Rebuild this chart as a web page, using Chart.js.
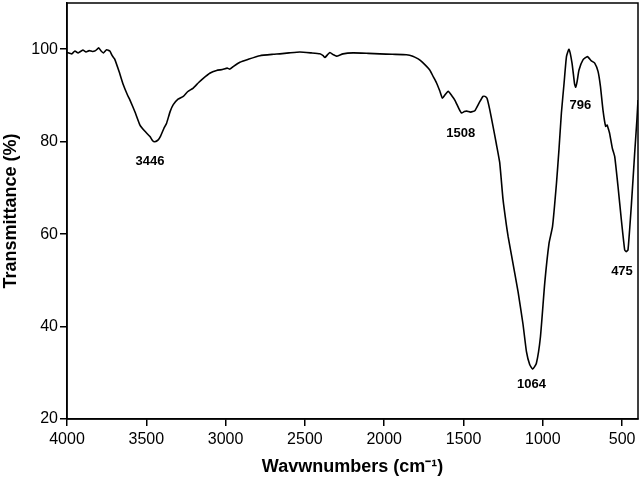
<!DOCTYPE html>
<html>
<head>
<meta charset="utf-8">
<script src="https://cdn.jsdelivr.net/npm/chart.js@4/dist/chart.umd.min.js"></script>
<style>
  html, body { margin: 0; padding: 0; background: #fff; }
  #wrap { width: 642px; height: 483px; }
</style>
</head>
<body>
<div id="wrap"><canvas id="c" width="642" height="483"></canvas></div>
<script>
// Wavenumbers (cm-1) and transmittance (%)
const wavenumbers = [
  4000, 3970, 3950, 3930, 3900, 3880, 3860, 3840, 3820, 3800, 3785, 3770, 3750, 3730, 3715, 3700,
  3670, 3645, 3620, 3603, 3570, 3540, 3510, 3477, 3460, 3446, 3425, 3410, 3390, 3372, 3350, 3330,
  3300, 3267, 3240, 3204, 3170, 3141, 3100, 3057, 3020, 2990, 2973, 2950, 2910, 2860, 2784, 2700,
  2658, 2600, 2532, 2460, 2406, 2385, 2374, 2355, 2343, 2320, 2301, 2260, 2196, 2100, 2028, 1950,
  1860, 1820, 1786, 1760, 1713, 1690, 1670, 1650, 1633, 1615, 1597, 1575, 1555, 1530, 1513, 1495,
  1481, 1455, 1429, 1400, 1377, 1365, 1352, 1335, 1314, 1293, 1272, 1251, 1230, 1219, 1198, 1156,
  1125, 1103, 1083, 1064, 1041, 1015, 988, 961, 939, 914, 898, 883, 866, 851, 835, 816,
  800, 793, 784, 772, 747, 719, 694, 673, 652, 637, 621, 604, 595, 589, 579, 562,
  547, 526, 505, 484, 475, 463, 441, 421, 407, 400
];
const transmittance = [
  99.3, 99.0, 99.6, 99.2, 99.8, 99.4, 99.7, 99.5, 99.7, 100.3, 99.6, 99.2, 99.9, 99.6, 98.6, 97.9,
  95.0, 92.3, 90.2, 89.0, 86.3, 83.6, 82.3, 81.1, 80.2, 80.0, 80.4, 81.2, 82.8, 84.0, 86.5, 88.0,
  89.2, 89.8, 90.8, 91.6, 92.8, 93.7, 94.8, 95.4, 95.6, 95.9, 95.7, 96.3, 97.2, 97.8, 98.6, 98.9,
  99.0, 99.2, 99.4, 99.2, 99.0, 98.6, 98.2, 98.9, 99.3, 98.8, 98.5, 99.0, 99.2, 99.1, 99.0, 98.9,
  98.8, 98.5, 97.9, 97.2, 95.5, 94.0, 92.7, 91.0, 89.4, 90.2, 90.9, 90.0, 89.0, 87.2, 86.2, 86.5,
  86.6, 86.4, 86.7, 88.5, 89.8, 89.8, 89.4, 87.0, 83.3, 79.5, 75.5, 67.5, 62.0, 59.5, 55.5, 47.5,
  40.5, 34.5, 31.8, 30.8, 32.0, 37.8, 49.4, 58.0, 61.6, 71.0, 78.4, 86.2, 92.7, 98.4, 100.0, 97.0,
  92.5, 91.8, 93.0, 95.5, 97.7, 98.4, 97.5, 97.0, 95.2, 92.0, 86.9, 83.3, 83.6, 83.0, 81.8, 78.6,
  76.8, 70.3, 63.1, 56.6, 56.2, 56.6, 66.7, 77.5, 84.7, 89.0
];
const xTickValues = [4000, 3500, 3000, 2500, 2000, 1500, 1000, 500];
const yTickValues = [20, 40, 60, 80, 100];
// Peak annotations: label text, anchor wavenumber, anchor transmittance
const peakLabels = ['3446', '1508', '796', '1064', '475'];
const peakLabelX = [3477, 1517, 763, 1072, 501];
const peakLabelY = [75.8, 81.7, 87.9, 27.5, 51.9];

const FONT = 'Arial, "Liberation Sans", sans-serif';

const framePlugin = {
  id: 'frame',
  afterDatasetsDraw(chart) {
    const {ctx, chartArea: a, scales} = chart;
    ctx.save();
    ctx.strokeStyle = '#000';
    ctx.lineWidth = 1.5;
    ctx.strokeRect(a.left, a.top, a.right - a.left, a.bottom - a.top);
    ctx.fillStyle = '#000';
    ctx.font = 'bold 13px ' + FONT;
    ctx.textAlign = 'center';
    ctx.textBaseline = 'middle';
    peakLabels.forEach((t, i) => {
      ctx.fillText(t, scales.x.getPixelForValue(peakLabelX[i]), scales.y.getPixelForValue(peakLabelY[i]));
    });
    ctx.restore();
  }
};

new Chart(document.getElementById('c'), {
  type: 'line',
  data: {
    datasets: [{
      data: wavenumbers.map((w, i) => ({x: w, y: transmittance[i]})),
      borderColor: '#000',
      borderWidth: 1.6,
      pointRadius: 0,
      tension: 0.15,
      fill: false
    }]
  },
  options: {
    responsive: false,
    devicePixelRatio: 1,
    animation: false,
    layout: {padding: {top: 3, right: 4, left: 0, bottom: 0}},
    plugins: {legend: {display: false}, tooltip: {enabled: false}},
    scales: {
      x: {
        type: 'linear',
        reverse: true,
        min: 400,
        max: 4000,
        afterBuildTicks: s => { s.ticks = xTickValues.map(v => ({value: v})); },
        afterFit: s => { s.height = 64; s.paddingLeft = 0; s.paddingRight = 0; },
        grid: {display: true, drawOnChartArea: false, drawTicks: true, tickLength: 7, color: '#000', lineWidth: 1.5},
        border: {display: true, color: '#000', width: 1.5},
        ticks: {color: '#000', font: {family: FONT, size: 16}, padding: 4, maxRotation: 0, autoSkip: false,
                callback: v => String(v)},
        title: {display: true, text: 'Wavwnumbers (cm\u207B\u00B9)', color: '#000',
                font: {family: FONT, size: 18, weight: 'bold'}, padding: {top: 0, bottom: 5}}
      },
      y: {
        type: 'linear',
        min: 20,
        max: 110,
        afterBuildTicks: s => { s.ticks = yTickValues.map(v => ({value: v})); },
        afterFit: s => { s.width = 67; s.paddingTop = 0; s.paddingBottom = 0; },
        grid: {display: true, drawOnChartArea: false, drawTicks: true, tickLength: 7, color: '#000', lineWidth: 1.5},
        border: {display: true, color: '#000', width: 1.5},
        ticks: {color: '#000', font: {family: FONT, size: 16}, padding: 2, callback: v => String(v)},
        title: {display: true, text: 'Transmittance (%)', color: '#000',
                font: {family: FONT, size: 18, weight: 'bold'}, padding: {top: 0, bottom: 0}}
      }
    }
  },
  plugins: [framePlugin]
});
</script>
</body>
</html>
